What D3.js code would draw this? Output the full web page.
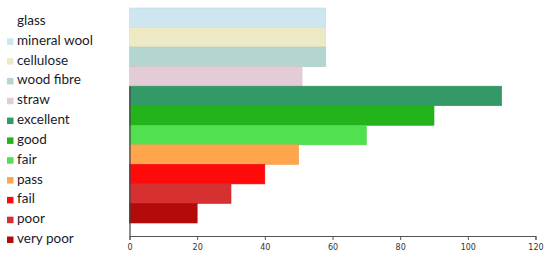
<!DOCTYPE html>
<html>
<head>
<meta charset="utf-8">
<script src="https://cdn.jsdelivr.net/npm/d3@7"></script>
<style>
  body { margin: 0; background: #fff; }
  svg { font-family: "Lato", "Open Sans", sans-serif; }
</style>
</head>
<body>
<svg id="chart"></svg>
<script>
// legend labels (glass has no swatch in the original)
const legendLabels = ["glass", "mineral wool", "cellulose", "wood fibre", "straw",
  "excellent", "good", "fair", "pass", "fail", "poor", "very poor"];

// bars
const categories = ["mineral wool", "cellulose", "wood fibre", "straw",
  "excellent", "good", "fair", "pass", "fail", "poor", "very poor"];
const values = [58, 58, 58, 51, 110, 90, 70, 50, 40, 30, 20];
const colors = ["#cde6f0", "#ede9c4", "#b3d6d1", "#e3ccd6", "#339966", "#22b41a",
  "#50e050", "#ffa64d", "#ff0a0a", "#d63030", "#b50a0a"];
const ratings = ["excellent", "good", "fair", "pass", "fail", "poor", "very poor"];
const xTicks = [0, 20, 40, 60, 80, 100, 120];

const width = 550;
const height = 258;
const axisY = 236;

const svg = d3.select("#chart").attr("width", width).attr("height", height);

const x = d3.scaleLinear().domain([0, 120]).range([129.5, 535.5]);
const y = d3.scaleBand().domain(categories).range([8, 223]).padding(0);
const color = d3.scaleOrdinal().domain(categories).range(colors);

//bars
svg.selectAll("rect.bar")
  .data(categories)
  .enter()
  .append("rect")
  .attr("class", "bar")
  .attr("x", x(0))
  .attr("y", (d) => y(d))
  .attr("width", (d, i) => x(values[i]) - x(0))
  .attr("height", y.bandwidth())
  .attr("fill", (d) => color(d))
  .attr("stroke", (d) => d3.color(color(d)).darker(0.15))
  .attr("stroke-width", 0.6);

//x axis
const xAxis = svg.append("g")
  .attr("transform", `translate(0, ${axisY})`)
  .call(d3.axisBottom(x).tickValues(xTicks).tickSize(4).tickSizeOuter(4));
xAxis.select(".domain").attr("stroke", "#555");
xAxis.selectAll(".tick line").attr("stroke", "#555");
xAxis.selectAll("text")
  .attr("fill", "#333")
  .style("font-size", "8px")
  .style("font-family", "'DejaVu Sans', sans-serif")
  .attr("dy", "0.9em");

//y axis only along the rating bars
const yRating = d3.scaleBand().domain(ratings).range([y("excellent"), axisY]);
const yAxis = svg.append("g")
  .attr("transform", `translate(${x(0)}, 0)`)
  .call(d3.axisLeft(yRating).tickValues([]).tickSizeOuter(0));
yAxis.select(".domain").attr("stroke", "#444").attr("stroke-width", 1.2);

//legend
const legend = svg.append("g");
const rowY = d3.scalePoint().domain(legendLabels).range([25, 243]); // baselines

legend.selectAll("rect")
  .data(legendLabels.slice(1))
  .enter()
  .append("rect")
  .attr("x", 7)
  .attr("y", (d) => rowY(d) - 6.5)
  .attr("width", 6.5)
  .attr("height", 6.5)
  .attr("fill", (d) => color(d));

legend.selectAll("text")
  .data(legendLabels)
  .enter()
  .append("text")
  .attr("x", 17)
  .attr("y", (d) => rowY(d))
  .attr("fill", "#1a1a2a")
  .style("font-size", "13.5px")
  .text((d) => d);
</script>
</body>
</html>
